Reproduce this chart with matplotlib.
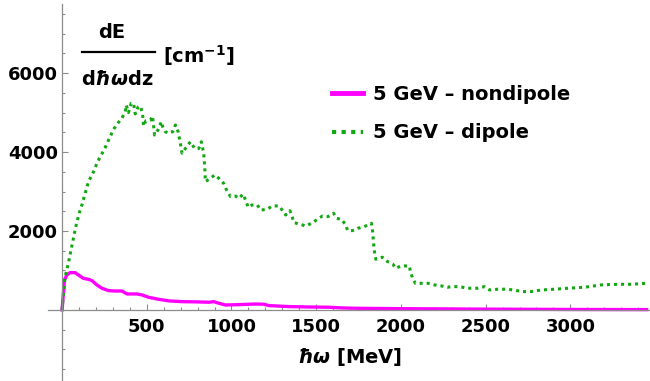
import matplotlib.pyplot as plt
from matplotlib.lines import Line2D
import numpy as np

plt.rcParams['mathtext.fontset'] = 'custom'
plt.rcParams['mathtext.rm'] = 'DejaVu Sans:bold'
plt.rcParams['mathtext.it'] = 'DejaVu Sans:bold:italic'
plt.rcParams['mathtext.bf'] = 'DejaVu Sans:bold'

# данные
dip_x = [0, 18, 37, 61, 81, 101, 120, 136, 156, 176, 191, 205, 225, 250, 274, 304, 329, 353,
         373, 379, 392, 408, 422, 432, 448, 462, 475, 481, 495, 521, 534, 546, 566, 586, 594,
         609, 629, 653, 669, 685, 698, 708, 728, 757, 783, 807, 822, 836, 842, 846, 876, 901,
         925, 954, 969, 994, 1024, 1043, 1069, 1099, 1122, 1152, 1172, 1211, 1241, 1280, 1306,
         1320, 1345, 1359, 1369, 1404, 1438, 1478, 1507, 1537, 1570, 1602, 1621, 1649, 1675,
         1685, 1714, 1747, 1783, 1826, 1832, 1838, 1842, 1852, 1891, 1921, 1951, 1970, 2000,
         2049, 2059, 2069, 2085, 2128, 2158, 2197, 2237, 2276, 2296, 2345, 2395, 2454, 2493,
         2523, 2572, 2621, 2670, 2710, 2769, 2828, 2907, 2986, 3085, 3183, 3282, 3361, 3450]
dip_y = [0, 840, 1180, 1690, 2110, 2450, 2700, 2950, 3250, 3420, 3545, 3710, 3880, 4070, 4300,
         4575, 4730, 4855, 5020, 5190, 5000, 5235, 5235, 4965, 5135, 5165, 4980, 4660, 4795,
         4810, 4910, 4430, 4560, 4770, 4640, 4515, 4475, 4515, 4685, 4515, 4220, 3970, 4090,
         4260, 4090, 4090, 4260, 3970, 3630, 3250, 3335, 3420, 3335, 3205, 3055, 2870, 2885,
         2825, 2935, 2600, 2660, 2660, 2530, 2550, 2635, 2635, 2490, 2405, 2515, 2345, 2210,
         2175, 2125, 2210, 2295, 2380, 2365, 2450, 2320, 2295, 2150, 2010, 2010, 2070, 2110,
         2195, 2025, 1730, 1520, 1285, 1335, 1225, 1165, 1055, 1115, 1115, 930, 800, 675, 675,
         675, 635, 610, 575, 590, 590, 550, 550, 590, 505, 525, 525, 505, 465, 465, 505, 525,
         550, 575, 635, 650, 650, 675]

nondip_x = [0, 14, 28, 47, 77, 97, 126, 156, 176, 205, 235, 274, 314, 353, 383, 442, 472, 511,
            570, 629, 708, 787, 866, 895, 925, 964, 1043, 1142, 1191, 1221, 1339, 1457, 1576,
            1655, 1734, 2000, 2500, 3000, 3450]
nondip_y = [0, 760, 885, 945, 945, 885, 800, 775, 745, 635, 550, 490, 480, 480, 405, 405, 380,
            320, 270, 230, 210, 205, 195, 210, 170, 125, 135, 150, 145, 110, 85, 75, 68, 50, 42,
            32, 20, 12, 8]

labels = ['5 GeV \u2013 nondipole', '5 GeV \u2013 dipole']
x_ticks = [500, 1000, 1500, 2000, 2500, 3000]
y_ticks = [2000, 4000, 6000]

W, H = 650, 381
fig = plt.figure(figsize=(6.5, 3.81), dpi=100)
ax = fig.add_axes([48 / W, 0, 602 / W, 377 / H])

green = '#13a813'
magenta = '#ff00ff'

ax.plot(nondip_x, nondip_y, color=magenta, lw=2.4, label=labels[0], solid_joinstyle='round')
ax.plot(dip_x, dip_y, color=green, lw=2.2, ls=(0, (1, 1.3)), dash_capstyle='butt',
        label=labels[1])

ax.set_xlim(-83, 3470)
ax.set_ylim(-1800, 7750)

# оси в стиле Mathematica
axc = '#8c8c8c'
for s in ['top', 'right']:
    ax.spines[s].set_visible(False)
ax.spines['left'].set_position(('data', 0))
ax.spines['bottom'].set_position(('data', 0))
for s in ['left', 'bottom']:
    ax.spines[s].set_color(axc)
    ax.spines[s].set_linewidth(0.9)

ax.set_xticks(x_ticks)
ax.set_xticks([v for v in range(100, 3500, 100) if v not in x_ticks], minor=True)
ax.set_yticks(y_ticks)
ax.set_yticks([v for v in range(-1500, 7600, 500) if v not in y_ticks and v != 0], minor=True)
ax.tick_params(which='both', direction='in', color=axc, width=0.8)
ax.tick_params(which='major', length=4.5)
ax.tick_params(which='minor', length=2.5)
ax.tick_params(axis='x', which='major', pad=6)
ax.tick_params(axis='y', which='major', pad=3)
for lab in ax.get_xticklabels() + ax.get_yticklabels():
    lab.set_fontsize(13)
    lab.set_fontweight('bold')

# подпись оси x
fig.text(350 / W, 1 - 363 / H, r'$\hbar\omega$ [MeV]', ha='center', va='baseline',
         fontsize=14, fontweight='bold')

# подпись оси y в виде дроби
fig.text(112 / W, 1 - 37.5 / H, 'dE', ha='center', va='baseline', fontsize=14,
         fontweight='bold')
fig.text(117.5 / W, 1 - 85 / H, r'd$\hbar\omega$dz', ha='center', va='baseline', fontsize=14,
         fontweight='bold')
fig.add_artist(Line2D([82 / W, 155 / W], [1 - 51.7 / H, 1 - 51.7 / H], color='black', lw=1.6,
                      transform=fig.transFigure))
fig.text(163 / W, 1 - 62.5 / H, r'[cm$^{-1}$]', ha='left', va='baseline', fontsize=14,
         fontweight='bold')

leg = ax.legend(loc='upper left', bbox_to_anchor=(332 / W, 1 - 85 / H),
                bbox_transform=fig.transFigure, frameon=False, borderpad=0,
                borderaxespad=0, handlelength=1.6, handletextpad=0.5, labelspacing=1.0,
                prop={'size': 14, 'weight': 'bold'})
leg.get_lines()[0].set_linewidth(3.5)
leg.get_lines()[1].set_linewidth(3)

fig.savefig('out.png', dpi=100)
